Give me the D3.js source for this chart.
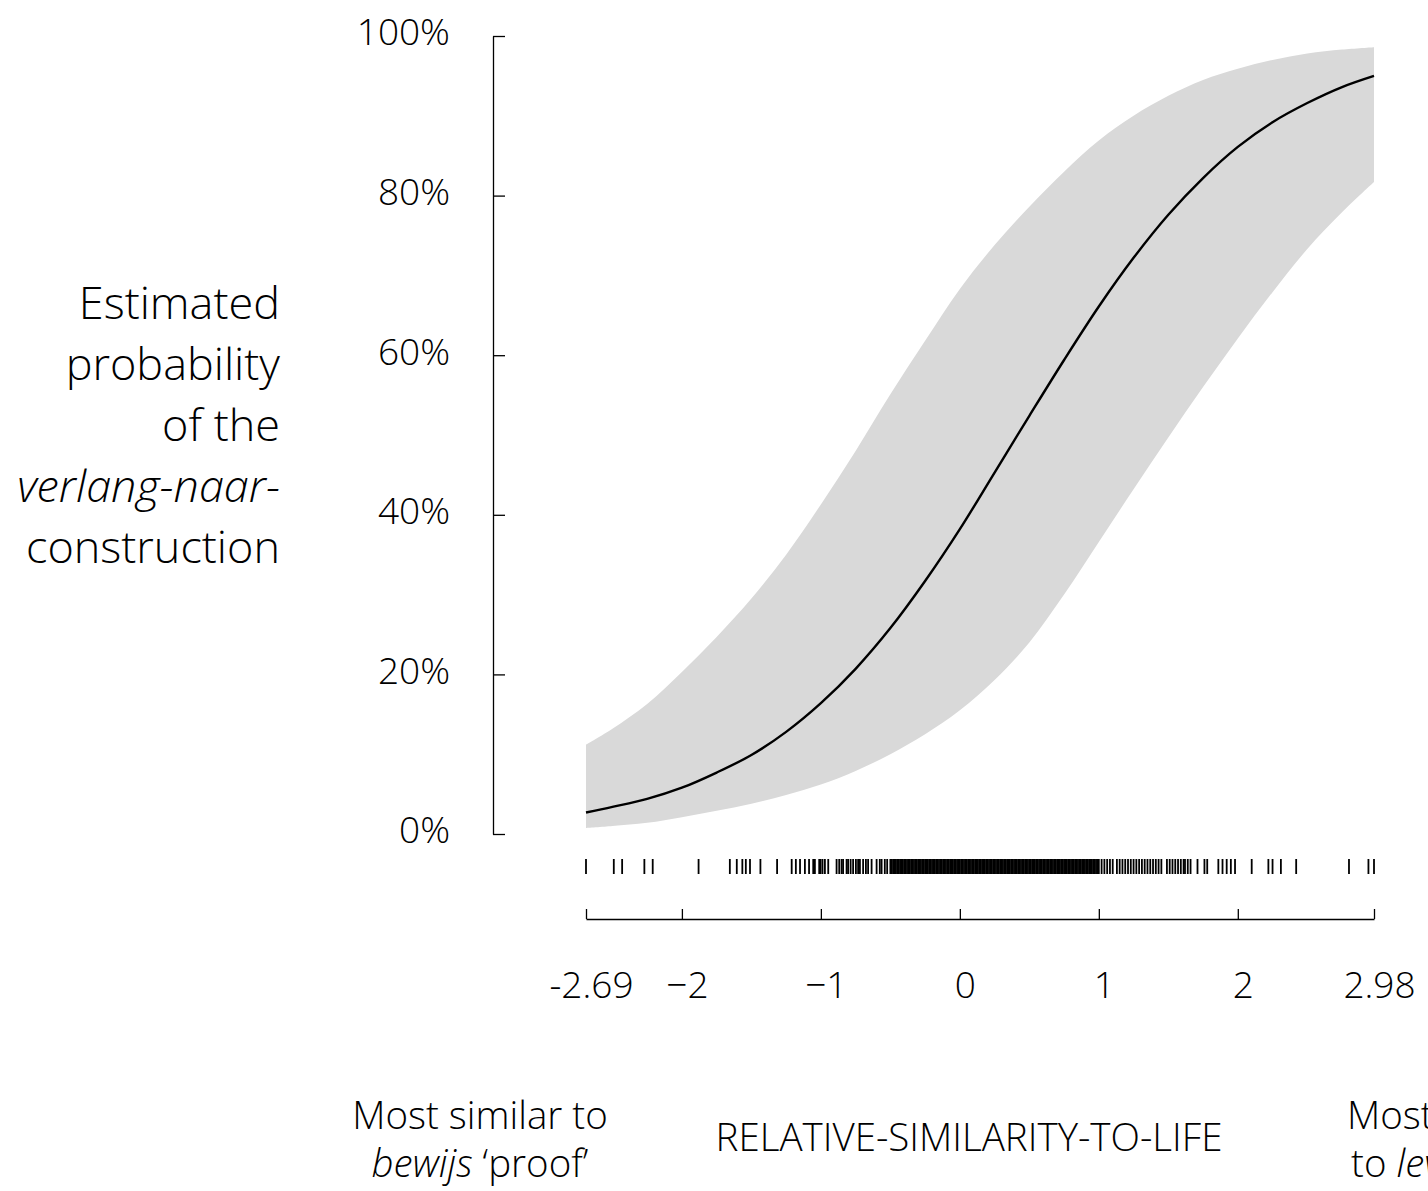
<!DOCTYPE html>
<html>
<head>
<meta charset="utf-8">
<script src="https://cdn.jsdelivr.net/npm/d3@7"></script>
<style>
  html, body { margin: 0; padding: 0; background: #fff; overflow: hidden; }
  svg { display: block; font-family: "Open Sans", "Noto Sans", sans-serif; font-weight: 300; }
</style>
</head>
<body>
<div id="chart"></div>
<script>
// similarity values at which the fitted curve and its band were read
const xGrid = [-2.69, -2.5, -2.25, -2, -1.75, -1.5, -1.25, -1, -0.75, -0.5, -0.25, 0,
               0.25, 0.5, 0.75, 1, 1.25, 1.5, 1.75, 2, 2.25, 2.5, 2.75, 2.98];
const fitted = [0.027, 0.034, 0.044, 0.058, 0.077, 0.099, 0.128, 0.164, 0.207, 0.258, 0.317, 0.382,
                0.453, 0.524, 0.594, 0.661, 0.722, 0.776, 0.822, 0.861, 0.892, 0.916, 0.936, 0.950];
const lower = [0.0075, 0.010, 0.014, 0.021, 0.029, 0.038, 0.049, 0.062, 0.079, 0.100, 0.125, 0.155,
               0.193, 0.240, 0.300, 0.366, 0.432, 0.497, 0.560, 0.621, 0.679, 0.733, 0.779, 0.817];
const upper = [0.112, 0.132, 0.163, 0.203, 0.247, 0.295, 0.350, 0.413, 0.480, 0.551, 0.618, 0.683,
               0.738, 0.786, 0.830, 0.869, 0.900, 0.925, 0.945, 0.959, 0.970, 0.978, 0.983, 0.986];

// observed values (rug)
const rugValues = [
  -2.69, -2.49, -2.43, -2.27, -2.21, -1.88, -1.655, -1.605, -1.565, -1.54, -1.51, -1.435, -1.315,
  -1.21, -1.18, -1.15, -1.115, -1.085, -1.055, -1.043, -1.012, -1.002, -0.988, -0.971, -0.947,
  -0.887, -0.868, -0.851, -0.84, -0.815, -0.804, -0.786, -0.768, -0.748, -0.732, -0.719, -0.696,
  -0.676, -0.66, -0.635, -0.599, -0.576, -0.563, -0.54, -0.523,
  -0.50, -0.49, -0.48, -0.47, -0.46, -0.45, -0.44, -0.43, -0.42, -0.41, -0.40, -0.39, -0.38, -0.37,
  -0.36, -0.35, -0.34, -0.33, -0.32, -0.31, -0.30, -0.29, -0.28, -0.27, -0.26, -0.25, -0.24, -0.23,
  -0.22, -0.21, -0.20, -0.19, -0.18, -0.17, -0.16, -0.15, -0.14, -0.13, -0.12, -0.11, -0.10, -0.09,
  -0.08, -0.07, -0.06, -0.05, -0.04, -0.03, -0.02, -0.01, 0.00, 0.01, 0.02, 0.03, 0.04, 0.05, 0.06,
  0.07, 0.08, 0.09, 0.10, 0.11, 0.12, 0.13, 0.14, 0.15, 0.16, 0.17, 0.18, 0.19, 0.20, 0.21, 0.22,
  0.23, 0.24, 0.25, 0.26, 0.27, 0.28, 0.29, 0.30, 0.31, 0.32, 0.33, 0.34, 0.35, 0.36, 0.37, 0.38,
  0.39, 0.40, 0.41, 0.42, 0.43, 0.44, 0.45, 0.46, 0.47, 0.48, 0.49, 0.50, 0.51, 0.52, 0.53, 0.54,
  0.55, 0.56, 0.57, 0.58, 0.59, 0.60, 0.61, 0.62, 0.63, 0.64, 0.65, 0.66, 0.67, 0.68, 0.69, 0.70,
  0.71, 0.72, 0.73, 0.74, 0.75, 0.76, 0.77, 0.78, 0.79, 0.80, 0.81, 0.82, 0.83, 0.84, 0.85, 0.86,
  0.87, 0.88, 0.89, 0.90, 0.91, 0.92, 0.93, 0.94, 0.95, 0.96, 0.97, 0.98, 0.99, 1.00,
  1.02, 1.04, 1.06, 1.08, 1.10, 1.13, 1.15, 1.17, 1.19, 1.21, 1.23, 1.25, 1.27, 1.29, 1.31, 1.33,
  1.35, 1.37, 1.39, 1.41, 1.43, 1.45, 1.49, 1.51, 1.53, 1.55, 1.57, 1.59, 1.61, 1.62, 1.64, 1.66,
  1.71, 1.76, 1.78, 1.86, 1.89, 1.92, 1.95, 1.98, 2.10, 2.22, 2.25, 2.31, 2.42, 2.80, 2.94, 2.98
];

const xTicks = [-2.69, -2, -1, 0, 1, 2, 2.98];
const xTickLabels = ['-2.69', '\u22122', '\u22121', '0', '1', '2', '2.98'];
const yTicks = [0, 0.2, 0.4, 0.6, 0.8, 1];
const yTickLabels = ['0%', '20%', '40%', '60%', '80%', '100%'];

const W = 1428, H = 1191;

const svg = d3.select('#chart').append('svg')
    .attr('width', W)
    .attr('height', H);

const x = d3.scaleLinear().domain([-2.69, 2.98]).range([586, 1374]);
const y = d3.scaleLinear().domain([0, 1]).range([834, 36]);

const rows = xGrid.map((v, i) => ({ x: v, fit: fitted[i], lo: lower[i], hi: upper[i] }));

// confidence band
svg.append('path')
    .datum(rows)
    .attr('fill', '#d9d9d9')
    .attr('d', d3.area()
        .x(d => x(d.x))
        .y0(d => y(d.lo))
        .y1(d => y(d.hi))
        .curve(d3.curveCatmullRom.alpha(0.5)));

// fitted curve
svg.append('path')
    .datum(rows)
    .attr('fill', 'none')
    .attr('stroke', '#000')
    .attr('stroke-width', 2.4)
    .attr('d', d3.line()
        .x(d => x(d.x))
        .y(d => y(d.fit))
        .curve(d3.curveCatmullRom.alpha(0.5)));

// y axis, ticks pointing inward
const yAxis = svg.append('g')
    .attr('transform', 'translate(493,0)')
    .call(d3.axisLeft(y)
        .tickValues(yTicks)
        .tickFormat((d, i) => yTickLabels[i])
        .tickSize(-12)
        .tickSizeOuter(0)
        .tickPadding(43));

yAxis.selectAll('path, line').attr('stroke', '#000').attr('stroke-width', 1.3);
yAxis.selectAll('text')
    .attr('fill', '#000')
    .attr('dy', '0.24em')
    .style('font-family', '"Open Sans", "Noto Sans", sans-serif')
    .style('font-weight', 300)
    .style('font-size', '37px');

// rug of observed values
svg.append('g')
    .selectAll('line')
    .data(rugValues)
    .enter().append('line')
    .attr('x1', d => x(d))
    .attr('x2', d => x(d))
    .attr('y1', 859)
    .attr('y2', 874)
    .attr('stroke', '#000')
    .attr('stroke-width', 1.8);

// x axis below the rug, ticks pointing up
const xAxis = svg.append('g')
    .attr('transform', 'translate(0,919)')
    .call(d3.axisBottom(x)
        .tickValues(xTicks)
        .tickFormat((d, i) => xTickLabels[i])
        .tickSize(-10)
        .tickSizeOuter(0)
        .tickPadding(53));

xAxis.selectAll('path, line').attr('stroke', '#000').attr('stroke-width', 1.3);
xAxis.selectAll('text')
    .attr('fill', '#000')
    .attr('dx', 5)
    .style('font-family', '"Open Sans", "Noto Sans", sans-serif')
    .style('font-weight', 300)
    .style('font-size', '37px');

// y title
const yTitle = svg.append('text')
    .attr('text-anchor', 'end')
    .style('font-size', '45px')
    .attr('fill', '#000');

const titleLines = [
    [{ t: 'Estimated' }],
    [{ t: 'probability' }],
    [{ t: 'of the' }],
    [{ t: 'verlang-naar-', i: true }],
    [{ t: 'construction' }]
];
titleLines.forEach((parts, k) => {
    const line = yTitle.append('tspan').attr('x', 280).attr('y', 319 + k * 61);
    parts.forEach(p => {
        line.append('tspan').text(p.t).style('font-style', p.i ? 'italic' : 'normal');
    });
});

// bottom captions
function caption(cx, lines) {
    const t = svg.append('text')
        .attr('text-anchor', 'middle')
        .style('font-size', '38.5px')
        .attr('fill', '#000');
    lines.forEach((parts, k) => {
        const line = t.append('tspan').attr('x', cx).attr('y', 1129 + k * 48);
        parts.forEach(p => {
            line.append('tspan').text(p.t).style('font-style', p.i ? 'italic' : 'normal');
        });
    });
}

caption(480, [[{ t: 'Most similar to' }], [{ t: 'bewijs', i: true }, { t: ' \u2018proof\u2019' }]]);
caption(1452, [[{ t: 'Most similar' }], [{ t: 'to ' }, { t: 'leven', i: true }, { t: ' \u2018life\u2019' }]]);

svg.append('text')
    .attr('x', 969)
    .attr('y', 1151)
    .attr('text-anchor', 'middle')
    .style('font-size', '38.5px')
    .attr('fill', '#000')
    .text('RELATIVE-SIMILARITY-TO-LIFE');
</script>
</body>
</html>
